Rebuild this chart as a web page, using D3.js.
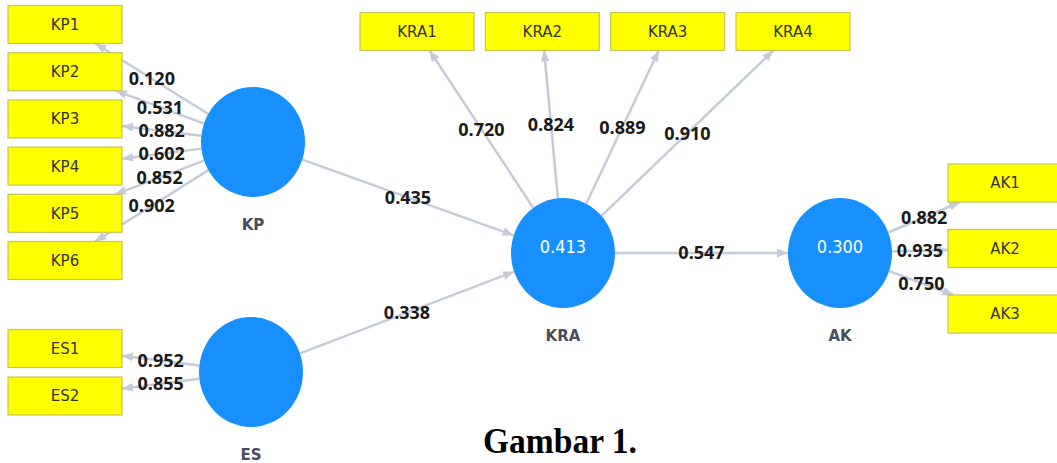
<!DOCTYPE html>
<html>
<head>
<meta charset="utf-8">
<script src="https://cdn.jsdelivr.net/npm/d3@7"></script>
<style>
  body { margin: 0; background: #fff; }
  svg { display: block; }
</style>
</head>
<body>
<svg id="chart" width="1057" height="463"></svg>
<script>
// data
const latents = ["KP", "ES", "KRA", "AK"];
const rSquare = { KRA: 0.413, AK: 0.300 };

const kpItems = ["KP1", "KP2", "KP3", "KP4", "KP5", "KP6"];
const kpLoadings = [0.120, 0.531, 0.882, 0.602, 0.852, 0.902];
const esItems = ["ES1", "ES2"];
const esLoadings = [0.952, 0.855];
const kraItems = ["KRA1", "KRA2", "KRA3", "KRA4"];
const kraLoadings = [0.720, 0.824, 0.889, 0.910];
const akItems = ["AK1", "AK2", "AK3"];
const akLoadings = [0.882, 0.935, 0.750];

const paths = [
  { from: "KP", to: "KRA", coef: 0.435 },
  { from: "ES", to: "KRA", coef: 0.338 },
  { from: "KRA", to: "AK", coef: 0.547 }
];

const caption = "Gambar 1.";

// layout (pixels)
const centers = {
  KP: { x: 253, y: 142 },
  ES: { x: 251, y: 372 },
  KRA: { x: 563, y: 253 },
  AK: { x: 840, y: 253 }
};
const rx = 52, ry = 55;
const boxW = 114, boxH = 38;

// indicator blocks, each placed with a point scale
const blocks = [
  { lv: "KP", items: kpItems, loads: kpLoadings, axis: "y", fixed: 65, range: [24.5, 260.5] },
  { lv: "ES", items: esItems, loads: esLoadings, axis: "y", fixed: 65, range: [348.5, 396] },
  { lv: "KRA", items: kraItems, loads: kraLoadings, axis: "x", fixed: 31.5, range: [417, 793] },
  { lv: "AK", items: akItems, loads: akLoadings, axis: "y", fixed: 1005, range: [183, 314] }
];

const svg = d3.select("#chart");

svg.append("defs").append("marker")
  .attr("id", "arrow")
  .attr("markerUnits", "userSpaceOnUse")
  .attr("viewBox", "0 0 10 8")
  .attr("refX", 10).attr("refY", 4)
  .attr("markerWidth", 11).attr("markerHeight", 9)
  .attr("orient", "auto")
  .append("path")
  .attr("d", "M0,0 L10,4 L0,8 Z")
  .attr("fill", "#c6cbd9");

function ellipseEdge(c, dx, dy) {
  const t = 1 / Math.sqrt((dx / rx) ** 2 + (dy / ry) ** 2);
  return { x: c.x + dx * t, y: c.y + dy * t };
}
function boxEdge(b, dx, dy) {
  // dx,dy point from box toward the outside (back to the source)
  const t = Math.min((boxW / 2) / Math.abs(dx || 1e-9), (boxH / 2) / Math.abs(dy || 1e-9));
  return { x: b.x + dx * t, y: b.y + dy * t };
}

const edges = [];
const boxes = [];
blocks.forEach(b => {
  const sc = d3.scalePoint().domain(b.items).range(b.range);
  const c = centers[b.lv];
  b.items.forEach((name, i) => {
    const bc = b.axis === "y" ? { x: b.fixed, y: sc(name) } : { x: sc(name), y: b.fixed };
    boxes.push({ name, x: bc.x, y: bc.y });
    const dx = bc.x - c.x, dy = bc.y - c.y;
    const s = ellipseEdge(c, dx, dy);
    const e = boxEdge(bc, -dx, -dy);
    edges.push({ s, e, label: b.loads[i].toFixed(3) });
  });
});
paths.forEach(p => {
  const a = centers[p.from], b = centers[p.to];
  const dx = b.x - a.x, dy = b.y - a.y;
  edges.push({ s: ellipseEdge(a, dx, dy), e: ellipseEdge(b, -dx, -dy), label: p.coef.toFixed(3) });
});

svg.append("g").selectAll("line")
  .data(edges).join("line")
  .attr("x1", d => d.s.x).attr("y1", d => d.s.y)
  .attr("x2", d => d.e.x).attr("y2", d => d.e.y)
  .attr("stroke", "#c6cbd9")
  .attr("stroke-width", 2.5)
  .attr("marker-end", "url(#arrow)");

// indicator boxes
const bx = svg.append("g").selectAll("g")
  .data(boxes).join("g")
  .attr("transform", d => `translate(${d.x},${d.y})`);
bx.append("rect")
  .attr("x", -boxW / 2).attr("y", -boxH / 2)
  .attr("width", boxW).attr("height", boxH)
  .attr("fill", "#ffff00")
  .attr("stroke", "#c4c45a")
  .attr("stroke-width", 1.2);
bx.append("text")
  .attr("text-anchor", "middle")
  .attr("dy", "0.36em")
  .attr("font-family", "DejaVu Sans, sans-serif")
  .attr("font-size", 15)
  .attr("fill", "#333")
  .text(d => d.name);

// latent variables
const lv = svg.append("g").selectAll("g")
  .data(latents).join("g")
  .attr("transform", d => `translate(${centers[d].x},${centers[d].y})`);
lv.append("ellipse")
  .attr("rx", rx).attr("ry", ry)
  .attr("fill", "#1790fd");
lv.filter(d => rSquare[d] !== undefined).append("text")
  .attr("text-anchor", "middle")
  .attr("y", -6)
  .attr("dy", "0.36em")
  .attr("font-family", "Liberation Sans Narrow, DejaVu Sans Condensed, sans-serif")
  .attr("font-size", 18)
  .attr("fill", "#fff")
  .text(d => rSquare[d].toFixed(3));
lv.append("text")
  .attr("text-anchor", "middle")
  .attr("y", ry + 28)
  .attr("dy", "0.36em")
  .attr("font-family", "DejaVu Sans, sans-serif")
  .attr("font-weight", "bold")
  .attr("font-size", 15)
  .attr("fill", "#4a4d5a")
  .text(d => d);

// coefficient labels at the middle of each arrow
svg.append("g").selectAll("text")
  .data(edges).join("text")
  .attr("x", d => (d.s.x + d.e.x) / 2)
  .attr("y", d => (d.s.y + d.e.y) / 2)
  .attr("text-anchor", "middle")
  .attr("dy", "0.36em")
  .attr("font-family", "Open Sans, sans-serif")
  .attr("font-weight", 700)
  .attr("font-size", 18)
  .attr("fill", "#1a1a1a")
  .text(d => d.label);

svg.append("text")
  .attr("x", 560).attr("y", 453)
  .attr("text-anchor", "middle")
  .attr("font-family", "Liberation Serif, serif")
  .attr("font-weight", "bold")
  .attr("font-size", 36)
  .attr("textLength", 154)
  .attr("lengthAdjust", "spacingAndGlyphs")
  .attr("fill", "#000")
  .text(caption);
</script>
</body>
</html>
